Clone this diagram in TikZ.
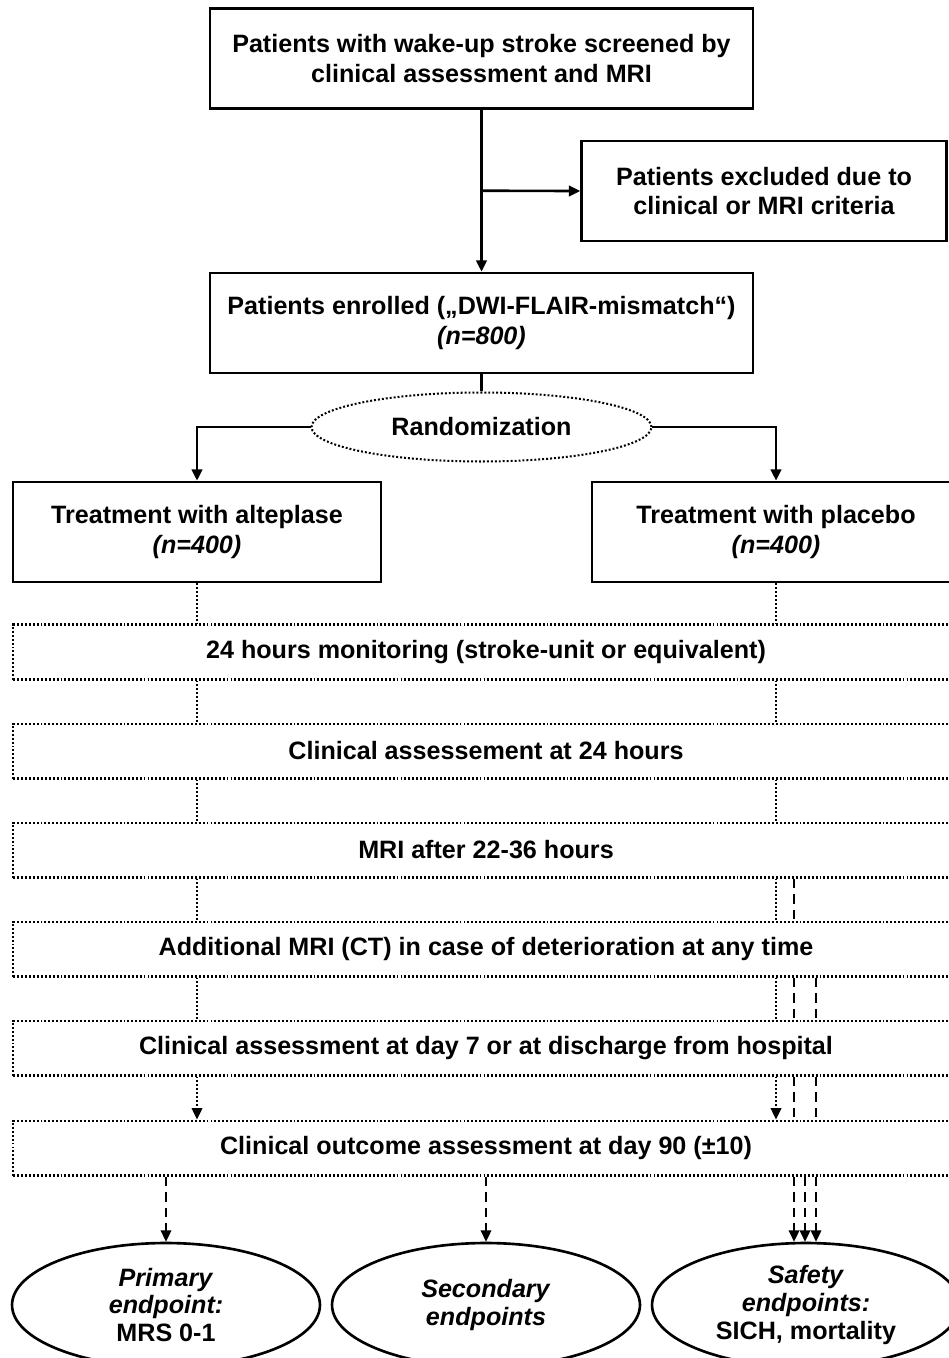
\documentclass[tikz,border=0pt]{standalone}
\usepackage{fontspec}
\setmainfont{Liberation Sans}
\usetikzlibrary{arrows.meta,calc,shapes.geometric}
\newcommand{\flowfont}{\fontsize{14.3}{17}\selectfont\bfseries}
\newcommand{\goalfont}{\fontsize{14.3}{15.9}\selectfont\bfseries}

\begin{document}
\begin{tikzpicture}[
  x=0.02cm, y=-0.02cm,
  flowbox/.style={draw=black, line width=1.5pt, fill=white, align=center, inner sep=0pt, minimum height=2cm, font=\flowfont},
  stepband/.style={draw=black, line width=1.15pt, dash pattern=on 1.1pt off 1.15pt, fill=white, inner sep=0pt, minimum width=18.92cm, minimum height=1.1cm, font=\flowfont},
  randnode/.style={draw=black, ellipse, line width=1.15pt, dash pattern=on 1.1pt off 1.15pt, fill=white, inner sep=0pt, minimum width=6.8cm, minimum height=1.38cm, font=\flowfont},
  endnode/.style={draw=black, ellipse, line width=1.5pt, fill=white, inner sep=0pt, align=center, minimum width=6.16cm, minimum height=2.48cm, font=\goalfont},
  solidline/.style={line width=1.5pt},
  dotline/.style={line width=1.15pt, dash pattern=on 1.1pt off 1.15pt},
  dashline/.style={line width=1.2pt, dash pattern=on 5.5pt off 3.4pt},
  arr/.style={-{Triangle[length=6.5pt,width=6pt]}},
]
\useasboundingbox (0,0) rectangle (948,1358);

% ===== Screening and enrolment =====
\node[flowbox, minimum width=10.86cm] (screen) at (481.5,58.5) {Patients with wake-up stroke screened by\\clinical assessment and MRI};
\node[flowbox, minimum width=7.3cm]   (excl)   at (764,191)    {Patients excluded due to\\clinical or MRI criteria};
\node[flowbox, minimum width=10.86cm] (enrol)  at (481.5,323)  {Patients enrolled („DWI-FLAIR-mismatch“)\\\textit{(n=800)}};
\node[randnode] (rand) at (481.5,427) {Randomization};

% ===== Treatment arms =====
\node[flowbox, minimum width=7.36cm] (alte) at (197,532) {Treatment with alteplase\\\textit{(n=400)}};
\node[flowbox, minimum width=7.36cm] (plac) at (776,532) {Treatment with placebo\\\textit{(n=400)}};

% ===== Follow-up bands =====
\node[stepband] (b1) at (486,652)  {24 hours monitoring (stroke-unit or equivalent)};
\node[stepband] (b2) at (486,751)  {Clinical assessement at 24 hours};
\node[stepband] (b3) at (486,850)  {MRI after 22-36 hours};
\node[stepband] (b4) at (486,949)  {Additional MRI (CT) in case of deterioration at any time};
\node[stepband] (b5) at (486,1048) {Clinical assessment at day 7 or at discharge from hospital};
\node[stepband] (b6) at (486,1148) {Clinical outcome assessment at day 90 (±10)};

% ===== Endpoints =====
\node[endnode] (prim) at (166,1305) {\textit{Primary}\\\textit{endpoint:}\\MRS 0-1};
\node[endnode] (secd) at (486,1305) {\textit{Secondary}\\\textit{endpoints}};
\node[endnode] (safe) at (806,1305) {\textit{Safety}\\\textit{endpoints:}\\SICH, mortality};

% columns of the dashed safety lines
\coordinate (dA) at (794,0);
\coordinate (dB) at (805,0);
\coordinate (dC) at (816,0);

% ===== Solid connectors =====
\coordinate (split) at ($(screen.south)!0.5!(enrol.north)$);
\draw[solidline, arr] (screen) -- (enrol);
\draw[solidline, arr] (split) -- (excl.west);
\draw[solidline] (enrol) -- (rand);
\draw[solidline, arr] (rand.west) -| (alte.north);
\draw[solidline, arr] (rand.east) -| (plac.north);

% ===== Dotted connectors (both arms) =====
\draw[dotline] (alte.south) -- (b1.north -| alte.south);
\draw[dotline] (plac.south) -- (b1.north -| plac.south);
\foreach \a/\b in {b1/b2,b2/b3,b3/b4,b4/b5}{
  \draw[dotline] (\a.south -| alte) -- (\b.north -| alte);
  \draw[dotline] (\a.south -| plac) -- (\b.north -| plac);
}
\draw[dotline, arr] (b5.south -| alte) -- (b6.north -| alte);
\draw[dotline, arr] (b5.south -| plac) -- (b6.north -| plac);

% ===== Dashed connectors =====
\draw[dashline] (b3.south -| dA) -- (b4.north -| dA);
\draw[dashline] (b4.south -| dA) -- (b5.north -| dA);
\draw[dashline] (b5.south -| dA) -- (b6.north -| dA);
\draw[dashline] (b4.south -| dC) -- (b5.north -| dC);
\draw[dashline] (b5.south -| dC) -- (b6.north -| dC);
\draw[dashline, arr] (b6.south -| prim) -- (prim);
\draw[dashline, arr] (b6.south -| secd) -- (secd);
\draw[dashline, arr] (b6.south -| dA) -- (safe.north -| dA);
\draw[dashline, arr] (b6.south -| dB) -- (safe.north -| dB);
\draw[dashline, arr] (b6.south -| dC) -- (safe.north -| dC);
\end{tikzpicture}
\end{document}
